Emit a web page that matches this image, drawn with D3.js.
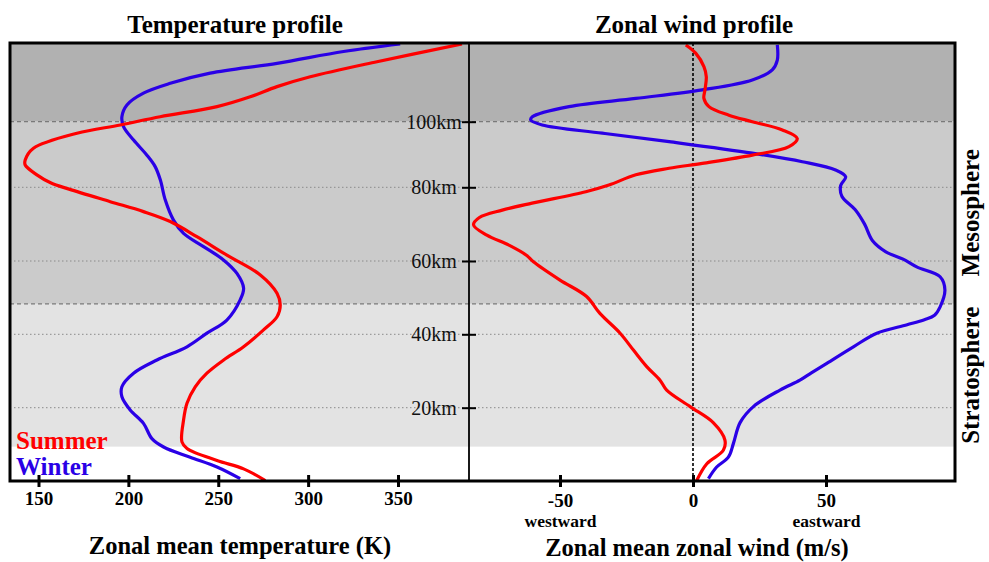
<!DOCTYPE html>
<html>
<head>
<meta charset="utf-8">
<script src="https://cdn.jsdelivr.net/npm/d3@7"></script>
<style>
  body { margin: 0; background: #fff; }
  svg { display: block; }
  text { font-family: "Liberation Serif", "Times New Roman", serif; }
</style>
</head>
<body>
<svg id="chart" width="989" height="562"></svg>
<script>
// ---- data -------------------------------------------------------------
const altitudeTicks = [20, 40, 60, 80, 100];           // km
const tempTicks = [150, 200, 250, 300, 350];           // K
const windTicks = [-50, 0, 50];                        // m/s
const windTickNotes = { "-50": "westward", "50": "eastward" };

// layer boundaries (km): top of plot, mesopause, stratopause, tropopause
const layerBounds = [124, 100, 48.3, 9.3];
const layerNames = ["Mesosphere", "Stratosphere"];
const seriesNames = ["Summer", "Winter"];

// [altitude km, temperature K]
const summerTemp = [
  [123.7, 385.6], [118.3, 338.3], [113.7, 301.2], [110.7, 282.7], [107.6, 267.8],
  [104.6, 249.3], [101.5, 217.7], [99.0, 195.5], [96.5, 171.4], [91.9, 147.2],
  [88.3, 142.6], [86.8, 142.6], [83.8, 149.1], [81.3, 157.0], [79.5, 167.0],
  [76.1, 189.9], [73.4, 208.4], [70.7, 223.3], [66.6, 238.1], [61.6, 254.8],
  [56.2, 273.4], [51.2, 282.7], [48.0, 284.5], [44.8, 282.7], [41.2, 275.2],
  [36.6, 264.1], [33.0, 253.0], [29.4, 243.7], [25.7, 237.2], [21.2, 232.6],
  [16.6, 230.7], [10.6, 229.8], [8.8, 232.6], [5.5, 249.3], [3.2, 264.1],
  [0.0, 276.2]
];
const winterTemp = [
  [123.7, 351.2], [121.4, 319.7], [117.8, 282.7], [114.8, 245.5], [111.7, 223.3],
  [108.7, 208.4], [105.1, 199.2], [101.5, 196.4], [98.5, 197.3], [94.4, 202.9],
  [89.8, 210.3], [86.3, 214.9], [82.2, 217.8], [76.6, 220.5], [71.1, 225.1],
  [67.5, 230.7], [63.9, 241.8], [60.3, 252.9], [56.6, 260.4], [52.6, 264.1],
  [49.4, 262.2], [43.9, 254.8], [40.3, 243.7], [36.6, 232.6], [33.0, 215.9],
  [29.4, 202.9], [25.7, 196.4], [23.0, 196.4], [19.4, 201.0], [15.7, 208.4],
  [11.5, 213.1], [9.2, 219.6], [6.4, 234.4], [3.7, 249.3], [0.5, 262.2]
];

// [altitude km, zonal wind m/s]
const summerWind = [
  [123.4, -2.7], [120.9, 1.0], [116.8, 4.1], [113.7, 5.0], [109.7, 4.5],
  [107.1, 4.1], [104.6, 6.0], [102.0, 13.5], [100.0, 22.3], [97.5, 33.6],
  [94.9, 39.2], [92.4, 36.1], [89.8, 22.3], [87.3, 3.5], [85.8, -9.0],
  [83.8, -21.5], [80.7, -31.6], [78.8, -40.3], [75.7, -60.5], [73.8, -71.7],
  [71.8, -80.3], [69.8, -82.5], [67.0, -77.5], [64.3, -69.2], [61.5, -62.5],
  [59.8, -60.0], [54.8, -50.0], [50.3, -40.0], [45.7, -35.0], [40.3, -27.4],
  [35.7, -22.4], [31.2, -17.4], [27.5, -12.4], [24.8, -9.9], [20.3, -1.1],
  [15.9, 7.6], [11.1, 12.0], [8.3, 11.4], [4.6, 5.2], [0.0, 1.4]
];
const winterWind = [
  [123.4, 31.7], [118.8, 31.7], [115.8, 29.8], [112.7, 22.3], [109.7, 3.5],
  [107.1, -21.5], [104.6, -46.6], [101.5, -60.4], [100.5, -61.0], [99.0, -56.7],
  [96.5, -34.1], [93.9, -9.0], [90.4, 22.3], [87.8, 41.1], [85.3, 53.6],
  [83.2, 57.4], [80.5, 55.5], [77.5, 56.0], [73.9, 61.0], [70.0, 64.5],
  [65.5, 67.5], [62.5, 72.5], [60.5, 79.0], [58.4, 84.1], [55.7, 92.9],
  [52.1, 94.7], [47.5, 92.9], [45.2, 90.8], [44.0, 87.0], [42.6, 80.5],
  [40.3, 69.1], [36.6, 60.3], [32.1, 50.3], [29.5, 44.5], [27.5, 40.2],
  [24.8, 32.7], [20.3, 22.7], [15.9, 17.7], [10.2, 15.2], [6.4, 13.3],
  [3.7, 8.9], [0.5, 5.8]
];

// ---- layout -------------------------------------------------------------
const svg = d3.select("#chart");
const frame = { left: 10, right: 955, top: 43, bottom: 481, split: 469 };
const colors = { Summer: "#ff0000", Winter: "#2a00e6" };

// altitude axis is stretched slightly differently above 80 km
const y = d3.scaleLinear()
  .domain([0, 20, 40, 60, 80, 100, 124])
  .range([480.5, 407.7, 334.3, 261, 187.3, 121.7, frame.top]);

const xT = d3.scaleLinear().domain([150, 350]).range([38.5, 398]);
const xW = d3.scaleLinear().domain([-50, 50]).range([560, 826]);

// ---- background layers ---------------------------------------------------
const bandFills = ["#b1b1b1", "#cbcbcb", "#e3e3e3"];
svg.append("g").selectAll("rect")
  .data(d3.pairs(layerBounds))
  .join("rect")
  .attr("x", frame.left)
  .attr("width", frame.right - frame.left)
  .attr("y", d => y(d[0]))
  .attr("height", d => y(d[1]) - y(d[0]))
  .attr("fill", (d, i) => bandFills[i]);

// dashed layer boundaries
svg.append("g").selectAll("line")
  .data(layerBounds.slice(1, 3))
  .join("line")
  .attr("x1", frame.left).attr("x2", frame.right)
  .attr("y1", d => y(d)).attr("y2", d => y(d))
  .attr("stroke", "#7a7a7a").attr("stroke-width", 1.2)
  .attr("stroke-dasharray", "4,3");

// dotted altitude gridlines
svg.append("g").selectAll("line")
  .data(altitudeTicks.filter(d => d !== layerBounds[1]))
  .join("line")
  .attr("x1", frame.left + 4).attr("x2", frame.right - 3)
  .attr("y1", d => y(d)).attr("y2", d => y(d))
  .attr("stroke", "#8a8a8a").attr("stroke-width", 1)
  .attr("stroke-dasharray", "1.5,2.5");

// zero wind line
svg.append("line")
  .attr("x1", xW(0)).attr("x2", xW(0))
  .attr("y1", frame.top).attr("y2", frame.bottom)
  .attr("stroke", "#000").attr("stroke-width", 1.6)
  .attr("stroke-dasharray", "3,2");

// ---- profiles ------------------------------------------------------------
const defs = svg.append("defs");
defs.append("clipPath").attr("id", "clipT").append("rect")
  .attr("x", frame.left).attr("y", frame.top)
  .attr("width", frame.split - frame.left).attr("height", frame.bottom - frame.top);
defs.append("clipPath").attr("id", "clipW").append("rect")
  .attr("x", frame.split).attr("y", frame.top)
  .attr("width", frame.right - frame.split).attr("height", frame.bottom - frame.top);

const lineT = d3.line().x(d => xT(d[1])).y(d => y(d[0])).curve(d3.curveCatmullRom.alpha(0.5));
const lineW = d3.line().x(d => xW(d[1])).y(d => y(d[0])).curve(d3.curveCatmullRom.alpha(0.5));

const gT = svg.append("g").attr("clip-path", "url(#clipT)");
const gW = svg.append("g").attr("clip-path", "url(#clipW)");

[["Winter", winterTemp], ["Summer", summerTemp]].forEach(([name, data]) => {
  gT.append("path").datum(data).attr("d", lineT)
    .attr("fill", "none").attr("stroke", colors[name])
    .attr("stroke-width", 3.2).attr("stroke-linejoin", "round");
});
[["Winter", winterWind], ["Summer", summerWind]].forEach(([name, data]) => {
  gW.append("path").datum(data).attr("d", lineW)
    .attr("fill", "none").attr("stroke", colors[name])
    .attr("stroke-width", 3.2).attr("stroke-linejoin", "round");
});

// ---- frame ----------------------------------------------------------------
svg.append("line")
  .attr("x1", frame.split).attr("x2", frame.split)
  .attr("y1", frame.top).attr("y2", frame.bottom)
  .attr("stroke", "#000").attr("stroke-width", 1.8);
svg.append("rect")
  .attr("x", frame.left).attr("y", frame.top)
  .attr("width", frame.right - frame.left).attr("height", frame.bottom - frame.top)
  .attr("fill", "none").attr("stroke", "#000").attr("stroke-width", 3);

// ---- axes ----------------------------------------------------------------
function styleBottomAxis(g, labelBaseline) {
  g.select(".domain").remove();
  g.selectAll(".tick line")
    .attr("y1", -6).attr("y2", 6)
    .attr("stroke", "#000").attr("stroke-width", 3);
  g.selectAll(".tick text")
    .attr("y", labelBaseline).attr("dy", null)
    .attr("font-size", 19).attr("font-weight", "bold")
    .attr("fill", "#000");
}

svg.append("g")
  .attr("transform", `translate(0,${frame.bottom})`)
  .call(d3.axisBottom(xT).tickValues(tempTicks).tickFormat(d => String(d)))
  .call(g => styleBottomAxis(g, 24));

const windAxis = svg.append("g")
  .attr("transform", `translate(0,${frame.bottom})`)
  .call(d3.axisBottom(xW).tickValues(windTicks).tickFormat(d => String(d)))
  .call(g => styleBottomAxis(g, 26));
windAxis.selectAll(".tick").each(function (d) {
  const note = windTickNotes[String(d)];
  if (note) {
    d3.select(this).append("text")
      .attr("y", 46).attr("text-anchor", "middle")
      .attr("font-size", 17.5).attr("font-weight", "bold")
      .attr("fill", "#000").text(note);
  }
});

// altitude axis on the panel divider
const altAxis = svg.append("g")
  .attr("transform", `translate(${frame.split},0)`)
  .call(d3.axisLeft(y).tickValues(altitudeTicks).tickFormat(d => d + "km"));
altAxis.select(".domain").remove();
altAxis.selectAll(".tick line")
  .attr("x1", -7).attr("x2", 7)
  .attr("stroke", "#000").attr("stroke-width", 2);
altAxis.selectAll(".tick text")
  .attr("x", -35).attr("text-anchor", "middle")
  .attr("font-size", 20).attr("fill", "#111");

// ---- titles and labels -------------------------------------------------------
const titleStyle = sel => sel.attr("text-anchor", "middle")
  .attr("font-weight", "bold").attr("fill", "#000");

svg.append("text").attr("x", 235).attr("y", 33).attr("font-size", 25)
  .call(titleStyle).text("Temperature profile");
svg.append("text").attr("x", 694).attr("y", 33).attr("font-size", 25)
  .call(titleStyle).text("Zonal wind profile");
svg.append("text").attr("x", 240).attr("y", 554).attr("font-size", 24.5)
  .call(titleStyle).text("Zonal mean temperature (K)");
svg.append("text").attr("x", 697).attr("y", 556).attr("font-size", 24.5)
  .call(titleStyle).text("Zonal mean zonal wind (m/s)");

// layer names, rotated on the right side
d3.pairs(layerBounds.slice(1)).forEach((pair, i) => {
  const cy = (y(pair[0]) + y(pair[1])) / 2;
  svg.append("text")
    .attr("transform", `translate(979,${cy}) rotate(-90)`)
    .attr("font-size", 25)
    .call(titleStyle)
    .text(layerNames[i]);
});

// legend
seriesNames.forEach((name, i) => {
  svg.append("text")
    .attr("x", 16).attr("y", 449 + i * 26)
    .attr("font-size", 25).attr("font-weight", "bold")
    .attr("fill", colors[name]).text(name);
});
</script>
</body>
</html>
